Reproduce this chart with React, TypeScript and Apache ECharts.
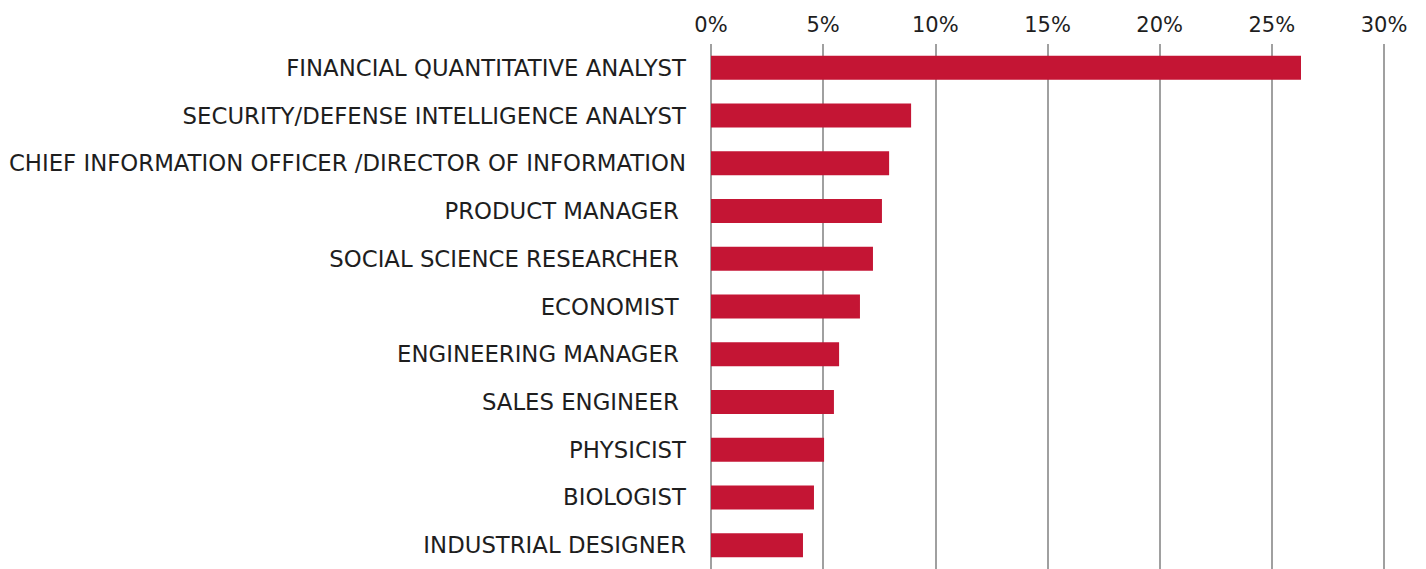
import React, { useEffect, useRef } from "react";
import * as echarts from "echarts";

const categories = [
  "FINANCIAL QUANTITATIVE ANALYST",
  "SECURITY/DEFENSE INTELLIGENCE ANALYST",
  "CHIEF INFORMATION OFFICER /DIRECTOR OF INFORMATION",
  "PRODUCT MANAGER ",
  "SOCIAL SCIENCE RESEARCHER ",
  "ECONOMIST ",
  "ENGINEERING MANAGER ",
  "SALES ENGINEER ",
  "PHYSICIST",
  "BIOLOGIST",
  "INDUSTRIAL DESIGNER",
];

const values = [26.3, 8.92, 7.94, 7.62, 7.22, 6.64, 5.71, 5.48, 5.04, 4.59, 4.1];

const FONT = "'DejaVu Sans', sans-serif";

export default function App() {
  const ref = useRef<HTMLDivElement>(null);
  useEffect(() => {
    if (!ref.current) return;
    const chart = echarts.init(ref.current, undefined, { renderer: "svg" });
    chart.setOption({
      animation: false,
      backgroundColor: "#ffffff",
      grid: { left: 711, right: 42, top: 44, bottom: 0, containLabel: false },
      xAxis: {
        type: "value",
        position: "top",
        min: 0,
        max: 30,
        interval: 5,
        axisLine: { show: false },
        axisTick: { show: false },
        axisLabel: {
          formatter: "{value}%",
          color: "#1e1e1e",
          fontFamily: FONT,
          fontSize: 21,
          margin: 9,
        },
        splitLine: { show: true, lineStyle: { color: "#a0a0a0", width: 2 } },
      },
      yAxis: {
        type: "category",
        inverse: true,
        data: categories,
        axisLine: { show: false },
        axisTick: { show: false },
        axisLabel: {
          color: "#1e1e1e",
          fontFamily: FONT,
          fontSize: 22.8,
          margin: 25,
          padding: [0, 0, 4, 0],
          formatter: (v: string) => v.replace(/ $/, "\u00a0"),
        },
      },
      series: [
        {
          type: "bar",
          data: values,
          barWidth: 24,
          itemStyle: { color: "#C41534" },
        },
      ],
    });
    return () => chart.dispose();
  }, []);
  return (
    <div
      ref={ref}
      style={{ position: "fixed", left: 0, top: 0, width: 1426, height: 569 }}
    />
  );
}
